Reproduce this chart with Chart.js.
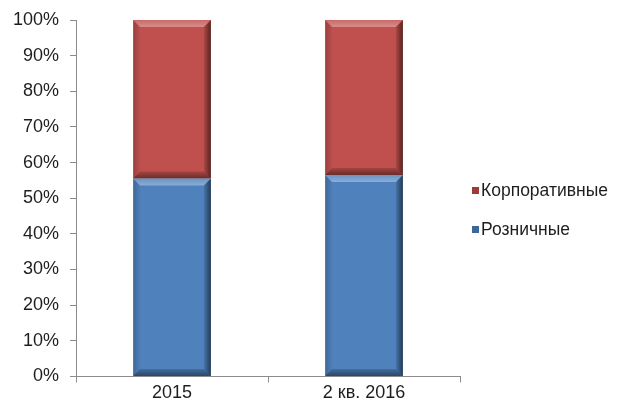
<!DOCTYPE html>
<html>
<head>
<meta charset="utf-8">
<script src="https://cdn.jsdelivr.net/npm/chart.js@4/dist/chart.umd.min.js"></script>
<style>
  html, body { margin: 0; padding: 0; background: #fff; }
  #wrap { position: relative; width: 630px; height: 410px; }
  #legend { position: absolute; left: 472px; top: 178px; font: 17.5px 'Liberation Sans', Arial, sans-serif; color: #1e1e1e; }
  #legend div { display: flex; align-items: center; height: 24px; margin-bottom: 15px; }
  #legend span.box { width: 7px; height: 7px; margin-right: 2px; }
</style>
</head>
<body>
<div id="wrap">
  <canvas id="chart" width="630" height="410"></canvas>
  <div id="legend"></div>
</div>
<script>
const categories = ['2015', '2 кв. 2016'];
const retail = [55.5, 56.5];
const corporate = [44.5, 43.5];
const seriesNames = ['Розничные', 'Корпоративные'];
const seriesColors = ['#4f81bd', '#c0504d'];
const legendColors = ['#3d679b', '#9c3b38'];

const FONT = 'Liberation Sans, Arial, sans-serif';

// Excel-like bevel over each bar segment
const bevel = {
    id: 'bevel',
    afterDatasetsDraw(chart) {
        const ctx = chart.ctx;
        chart.data.datasets.forEach((ds, i) => {
            chart.getDatasetMeta(i).data.forEach((bar) => {
                const p = bar.getProps(['x', 'y', 'base', 'width'], true);
                const l = p.x - p.width / 2;
                const r = p.x + p.width / 2;
                const t = Math.min(p.y, p.base);
                const b = Math.max(p.y, p.base);
                const d = 7;
                const poly = (pts, fill) => {
                    ctx.beginPath();
                    ctx.moveTo(pts[0][0], pts[0][1]);
                    pts.slice(1).forEach((pt) => ctx.lineTo(pt[0], pt[1]));
                    ctx.closePath();
                    ctx.fillStyle = fill;
                    ctx.fill();
                };
                const grad = (x0, y0, x1, y1, c0, c1) => {
                    const g = ctx.createLinearGradient(x0, y0, x1, y1);
                    g.addColorStop(0, c0);
                    g.addColorStop(1, c1);
                    return g;
                };
                ctx.save();
                poly([[l, t], [r, t], [r - d, t + d], [l + d, t + d]],
                    grad(0, t, 0, t + d, 'rgba(255,255,255,0.15)', 'rgba(255,255,255,0.35)'));
                poly([[l, b], [r, b], [r - d, b - d], [l + d, b - d]],
                    grad(0, b - d, 0, b, 'rgba(0,0,0,0.15)', 'rgba(0,0,0,0.45)'));
                poly([[l, t], [l + d, t + d], [l + d, b - d], [l, b]],
                    grad(l, 0, l + d, 0, 'rgba(0,0,0,0.2)', 'rgba(0,0,0,0.02)'));
                poly([[r, t], [r - d, t + d], [r - d, b - d], [r, b]],
                    grad(r - d, 0, r, 0, 'rgba(0,0,0,0.1)', 'rgba(0,0,0,0.55)'));
                ctx.restore();
            });
        });
    }
};

new Chart(document.getElementById('chart'), {
    type: 'bar',
    data: {
        labels: categories,
        datasets: [
            {
                label: seriesNames[0],
                data: retail,
                backgroundColor: seriesColors[0],
                borderWidth: 0,
            },
            {
                label: seriesNames[1],
                data: corporate,
                backgroundColor: seriesColors[1],
                borderWidth: 0,
            },
        ],
    },
    options: {
        responsive: false,
        animation: false,
        categoryPercentage: 1,
        barPercentage: 0.405,
        layout: {
            padding: { top: 10, left: 2, right: 170, bottom: 6 },
        },
        plugins: {
            tooltip: { enabled: false },
            legend: { display: false },
        },
        scales: {
            x: {
                stacked: true,
                grid: {
                    offset: true,
                    drawOnChartArea: false,
                    color: '#8c8c8c',
                    tickLength: 6,
                },
                border: { color: '#8c8c8c' },
                ticks: {
                    color: '#1e1e1e',
                    padding: 0,
                    font: { family: FONT, size: 18 },
                },
            },
            y: {
                stacked: true,
                min: 0,
                max: 100,
                grid: {
                    drawOnChartArea: false,
                    color: '#8c8c8c',
                    tickLength: 6,
                },
                border: { color: '#8c8c8c' },
                ticks: {
                    stepSize: 10,
                    color: '#1e1e1e',
                    padding: 11,
                    font: { family: FONT, size: 18, lineHeight: 1.0 },
                    callback: (v) => v + '%',
                },
            },
        },
    },
    plugins: [bevel],
});

// legend, top item first (reversed like the stack)
const legend = document.getElementById('legend');
seriesNames.map((name, i) => ({ name, color: legendColors[i] })).reverse().forEach((item) => {
    const row = document.createElement('div');
    const box = document.createElement('span');
    box.className = 'box';
    box.style.background = item.color;
    row.appendChild(box);
    row.appendChild(document.createTextNode(item.name));
    legend.appendChild(row);
});
</script>
</body>
</html>
